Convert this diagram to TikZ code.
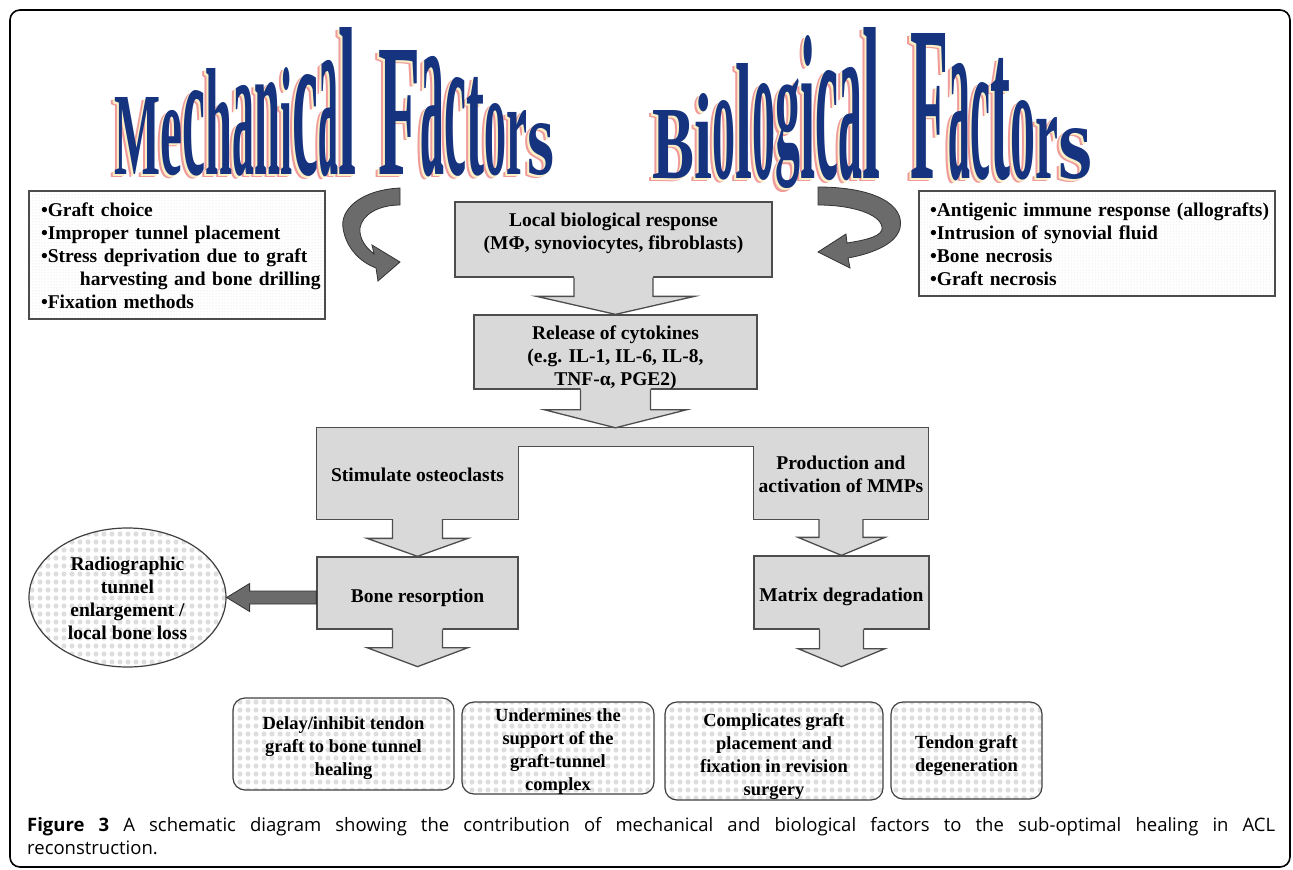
\documentclass[tikz,border=0pt]{standalone}
\usepackage{fontspec}
\setmainfont{Liberation Serif}
\newfontfamily\capfont{Open Sans}
\usepackage{graphicx}
\usetikzlibrary{calc,shapes.geometric,patterns,patterns.meta,backgrounds}

\definecolor{callfill}{HTML}{D9D9D9}
\definecolor{calledge}{HTML}{4D4D4D}
\definecolor{artblue}{HTML}{15337F}
\definecolor{artpink}{HTML}{F09A9A}
\definecolor{artcream}{HTML}{FBEFC8}
\definecolor{arrowgray}{HTML}{6B6B6B}

\tikzdeclarepattern{
  name=bubbles, type=uncolored,
  bounding box={(-4pt,-4pt) and (4pt,4pt)},
  tile size={(8pt,8pt)},
  code={\fill (0pt,0pt) circle (2.6pt);}
}

% one stretched letter of the word art
\newcommand\waletter[3]{\resizebox{#2pt}{#3pt}{#1}}
\newcommand\mechword{\waletter{M}{46}{77}\waletter{e}{22}{64}\waletter{c}{23}{84}\waletter{h}{27}{106}\waletter{a}{22}{89}\waletter{n}{26}{92}\waletter{i}{12}{107}\waletter{c}{26}{100}\waletter{a}{20}{114}\waletter{l}{18}{147}\hspace{22pt}\waletter{F}{42}{124}\waletter{a}{24}{118}\waletter{c}{22}{97}\waletter{t}{18}{97}\waletter{o}{22}{71}\waletter{r}{21}{64}\waletter{s}{27}{51}}
\newcommand\bioword{\waletter{B}{42}{68}\waletter{i}{18}{85}\waletter{o}{23}{78}\waletter{l}{17}{115}\waletter{o}{23}{95}\raisebox{22pt}{\resizebox*{25pt}{110pt}{g}}\waletter{i}{15}{143}\waletter{c}{23}{108}\waletter{a}{24}{111}\waletter{l}{18}{151}\hspace{30pt}\waletter{F}{38}{145}\waletter{a}{22}{115}\waletter{c}{20}{96}\waletter{t}{20}{120}\waletter{o}{25}{78}\waletter{r}{23}{61}\waletter{s}{34}{50}}

\newcommand\midlines[1]{\begin{tabular}[t]{@{}c@{}}#1\end{tabular}}
\newcommand\leftlines[1]{\begin{tabular}[t]{@{}l@{}}#1\end{tabular}}

% block arrow from a box bottom down to a tip
\newcommand\blockdown[5]{%
  \fill[callfill] let \p1=#1, \p2=#2 in
    (\x1-#3pt,\y1+1.5pt) -- (\x1-#3pt,\y2+#5pt) -- (\x2-#4pt,\y2+#5pt) -- (\x2,\y2)
    -- (\x2+#4pt,\y2+#5pt) -- (\x1+#3pt,\y2+#5pt) -- (\x1+#3pt,\y1+1.5pt) -- cycle;
  \draw[calledge, line width=1.3pt, line join=miter] let \p1=#1, \p2=#2 in
    (\x1-#3pt,\y1) -- (\x1-#3pt,\y2+#5pt) -- (\x2-#4pt,\y2+#5pt) -- (\x2,\y2)
    -- (\x2+#4pt,\y2+#5pt) -- (\x1+#3pt,\y2+#5pt) -- (\x1+#3pt,\y1);
}

\begin{document}
\begin{tikzpicture}[x=1pt, y=-1pt,
  font=\fontsize{19.5}{23}\selectfont\bfseries,
  listbox/.style={draw=black!70, line width=1.2pt, preaction={fill=white}, pattern=dots, pattern color=black!14, inner xsep=12pt, inner ysep=0pt},
  callout/.style={fill=callfill, draw=calledge, line width=1.3pt},
  textbox/.style={inner sep=0pt},
  outbox/.style={draw=black!75, line width=1.2pt, rounded corners=12pt, preaction={fill=white}, pattern=bubbles, pattern color=black!13, inner sep=0pt, font=\fontsize{18.5}{23}\selectfont\bfseries},
  radio/.style={ellipse, draw=black!75, line width=1.2pt, preaction={fill=white}, pattern=bubbles, pattern color=black!13, inner sep=0pt},
  wordart/.style={inner sep=0pt, anchor=base west, font=\bfseries},
  darkarrow/.style={fill=arrowgray, draw=black!80, line width=0.8pt},
]
\useasboundingbox (0,0) rectangle (1293,870);

% Frame
\draw[line width=1.6pt, rounded corners=10pt] (10,10) rectangle (1290,867);

% Word art titles
\node[wordart, text=artpink] (mechshade) at (110.5,177.5) {\mechword};
\node[wordart, text=artcream] (mechlight) at (112,176) {\mechword};
\node[wordart, text=artblue] (mech) at (114,174) {\mechword};
\node[wordart, text=artpink] (bioshade) at (648.5,181.5) {\bioword};
\node[wordart, text=artcream] (biolight) at (650,180) {\bioword};
\node[wordart, text=artblue] (bio) at (652,178) {\bioword};

% Factor lists
\node[listbox, text width=272pt, text height=25pt, text depth=103pt] (mechlist) at (177,255)
  {\leftlines{•Graft choice\\•Improper tunnel placement\\•Stress deprivation due to graft\\\hspace*{39pt}harvesting and bone drilling\\•Fixation methods}};
\node[listbox, text width=334pt, inner xsep=11pt, text height=25pt, text depth=80pt] (biolist) at (1097,243.5)
  {\leftlines{•Antigenic immune response (allografts)\\•Intrusion of synovial fluid\\•Bone necrosis\\•Graft necrosis}};

% Curved arrows into the response
\filldraw[darkarrow] (400,188) .. controls (360,190) and (340,210) .. (343,228)
  .. controls (346,248) and (360,262) .. (376,268) -- (378,281) -- (400,262) -- (372,245) -- (374,254)
  .. controls (365,247) and (359,238) .. (360,228) .. controls (362,215) and (378,205) .. (400,205) -- cycle;
\filldraw[darkarrow] (818,187) .. controls (875,187) and (905,205) .. (900,228)
  .. controls (896,245) and (870,254) .. (848,258) -- (850,268) -- (818,252) -- (846,234) -- (847,243)
  .. controls (866,240) and (884,236) .. (882,227) .. controls (880,214) and (852,205) .. (818,205) -- cycle;

% Main chain
\node[callout, textbox, minimum width=317pt, text height=24.5pt, text depth=50.5pt] (local) at (613.5,239.5)
  {\midlines{Local biological response\\(MΦ, synoviocytes, fibroblasts)}};
\node[callout, textbox, minimum width=283pt, text height=24pt, text depth=50pt] (release) at (615.5,352)
  {\midlines{Release of cytokines\\(e.g. IL-1, IL-6, IL-8,\\TNF-α, PGE2)}};

% Fork
\node[textbox, minimum width=201pt, text height=34.5pt, text depth=37.5pt] (stim) at (417.5,483) {Stimulate osteoclasts};
\node[textbox, minimum width=174pt, text height=22.5pt, text depth=49.5pt] (prod) at (841,483)
  {\midlines{Production and\\activation of MMPs}};
\coordinate (forktop) at ($(stim.north)+(0,-19)$);
\begin{scope}[on background layer]
  \filldraw[callout] (stim.north west |- forktop) -- (prod.north east |- forktop) -- (prod.south east)
    -- (prod.south west) -- (prod.north west) -- (stim.north east) -- (stim.south east) -- (stim.south west) -- cycle;
\end{scope}

\node[callout, textbox, minimum width=201pt, text height=45.5pt, text depth=26.5pt] (bone) at (417.5,593) {Bone resorption};
\node[callout, textbox, minimum width=175pt, text height=45.5pt, text depth=27.5pt] (matrix) at (841.5,592.5) {Matrix degradation};

\node[radio, minimum width=197pt, minimum height=139pt, text height=20pt, text depth=74pt] (radio) at (127.5,597.5)
  {\midlines{Radiographic\\tunnel\\enlargement /\\local bone loss}};

% Block arrows
\blockdown{(local.south)}{(release.north)}{39.5}{79}{18}
\blockdown{(release.south)}{(release.south |- forktop)}{35}{71}{18}
\blockdown{(stim.south)}{(bone.north)}{25}{50.5}{18}
\blockdown{(prod.south)}{(matrix.north)}{22}{43.5}{18}
\coordinate (boneend) at ($(bone.south)+(0,37)$);
\coordinate (matrixend) at ($(matrix.south)+(0,37)$);
\blockdown{(bone.south)}{(boneend)}{25}{50.5}{19}
\blockdown{(matrix.south)}{(matrixend)}{22}{43.5}{18}

\filldraw[darkarrow] let \p1=(bone.west), \p2=(radio.east) in
  (\x1,\y2+6.5pt) -- (\x2+23pt,\y2+6.5pt) -- (\x2+23pt,\y2+14pt) -- (\x2,\y2)
  -- (\x2+23pt,\y2-14pt) -- (\x2+23pt,\y2-6.5pt) -- (\x1,\y2-6.5pt) -- cycle;

% Consequences
\node[outbox, minimum width=221pt, text height=31.5pt, text depth=60.5pt] (delay) at (343.5,744)
  {\midlines{Delay/inhibit tendon\\graft to bone tunnel\\healing}};
\node[outbox, minimum width=192pt, text height=19.5pt, text depth=72.5pt] (support) at (558,748)
  {\midlines{Undermines the\\support of the\\graft-tunnel\\complex}};
\node[outbox, minimum width=218pt, text height=24.5pt, text depth=73.5pt] (revision) at (774,751)
  {\midlines{Complicates graft\\placement and\\fixation in revision\\surgery}};
\node[outbox, minimum width=151pt, text height=46.5pt, text depth=50.5pt] (degen) at (966.5,750.5)
  {\midlines{Tendon graft\\degeneration}};

% Caption
\node[inner sep=0pt, anchor=north west, text width=1248pt, align=justify, font=\capfont\fontsize{18.5}{23}\selectfont] (caption) at (27,817)
  {\textbf{Figure 3} A schematic diagram showing the contribution of mechanical and biological factors to the sub-optimal healing in ACL\linebreak reconstruction.};
\end{tikzpicture}
\end{document}
